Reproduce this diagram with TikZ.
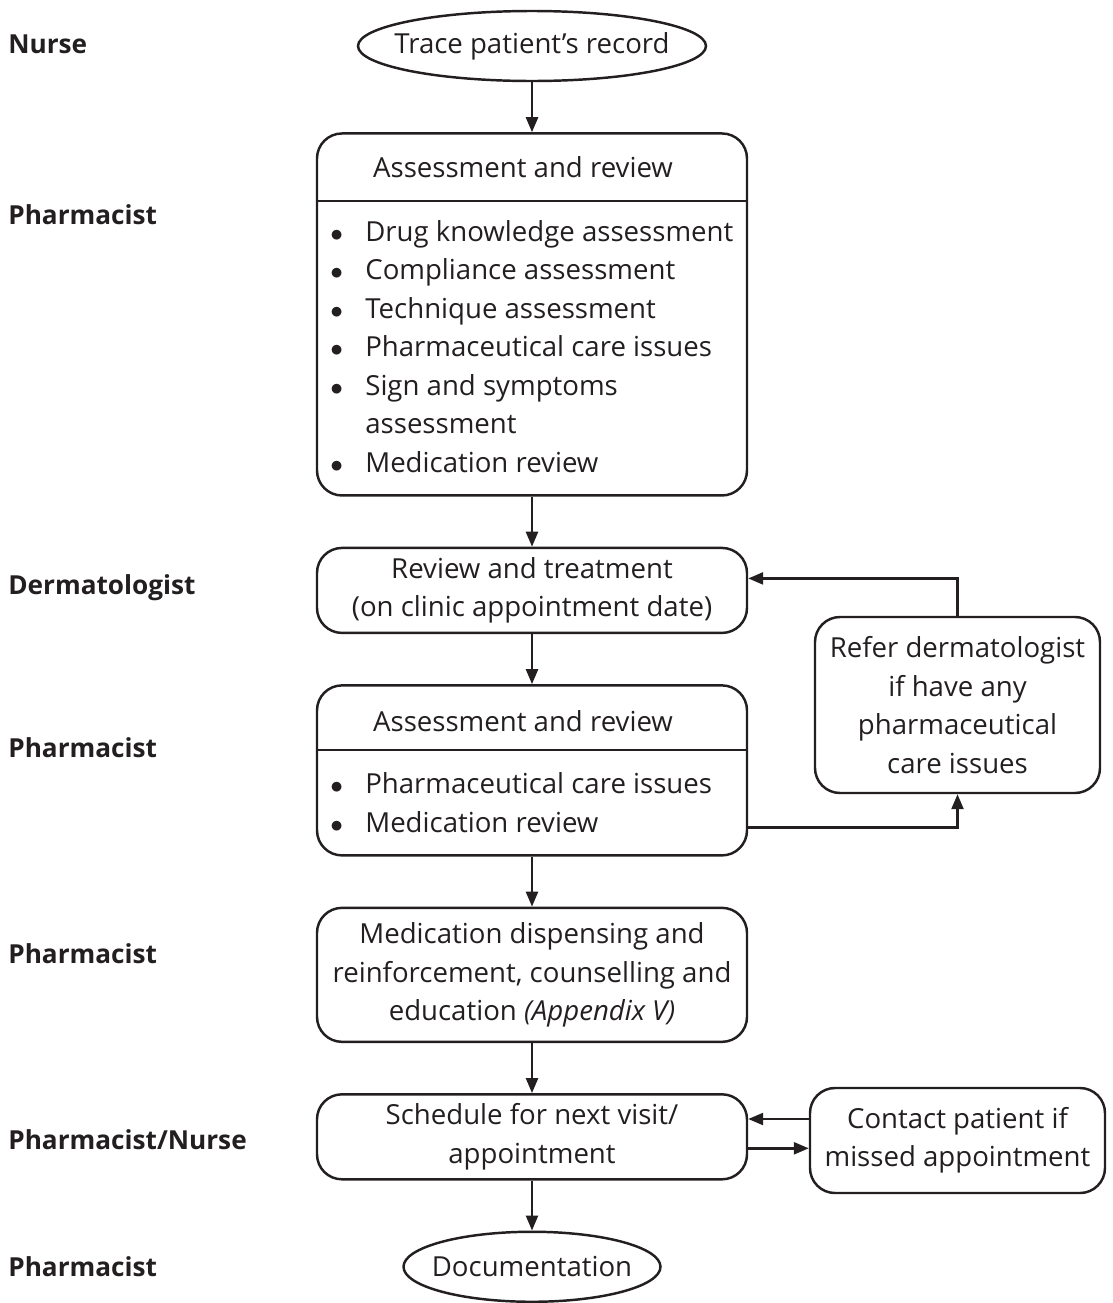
\documentclass[tikz,border=0pt]{standalone}
\usepackage{fontspec}
\setmainfont{Open Sans}
\usetikzlibrary{positioning,arrows.meta,calc,shapes.geometric}
\definecolor{flowink}{HTML}{231F20}
\newcommand{\flowfont}{\fontsize{15.7}{21.9}\selectfont}
\newcommand{\rolefont}{\fontsize{14.9}{18}\selectfont\bfseries}
\newcommand{\itembul}{\makebox[0.7cm][l]{$\bullet$}}
\tikzset{
    every edge/.style={draw=flowink,line width=1.4pt,-{Triangle[length=0.3cm,width=0.24cm]}},
    stage/.style={draw=flowink,rounded corners=0.5cm,line width=1.4pt,minimum width=8.6cm,align=center,text=flowink,font=\flowfont},
    oval/.style={ellipse,draw=flowink,line width=1.4pt,inner sep=0pt,text=flowink,font=\flowfont},
    sidebox/.style={stage,minimum width=5.7cm},
    bullets/.style={anchor=west,align=left,inner sep=0pt,text=flowink,font=\flowfont},
    role/.style={anchor=west,inner sep=0pt,text=flowink,font=\rolefont},
    divider/.style={draw=flowink,line width=1.4pt},
}

\begin{document}
\begin{tikzpicture}[node distance=1.0cm]
    \useasboundingbox (0,0) rectangle (22.26,-26.06);

    % main column
    \node[oval,minimum width=6.96cm,minimum height=1.4cm] (trace) at (10.64,-0.92) {\makebox[0pt]{Trace patient's record}};
    \node[stage,minimum height=7.24cm,below=of trace] (assess) {};
    \node[stage,minimum height=1.7cm,below=of assess] (review) {Review and treatment\\(on clinic appointment date)};
    \node[stage,minimum height=3.4cm,below=of review] (reassess) {};
    \node[stage,minimum height=2.68cm,below=of reassess] (dispense) {Medication dispensing and\\reinforcement, counselling and\\education \textit{(Appendix V)}};
    \node[stage,minimum height=1.7cm,below=of dispense] (schedule) {Schedule for next visit/\\appointment};
    \node[oval,minimum width=5.14cm,minimum height=1.4cm,below=of schedule] (doc) {\makebox[0pt]{Documentation}};

    % side boxes
    \node[sidebox,minimum height=3.52cm] (refer) at (19.15,-14.1) {Refer dermatologist\\if have any\\pharmaceutical\\care issues};
    \node[sidebox,minimum width=5.9cm,minimum height=2.1cm] (contact) at (19.15,-22.81) {Contact patient if\\missed appointment};

    % split boxes
    \node[stage,draw=none,minimum width=0pt] (assesstitle) at (10.46,-3.34) {Assessment and review};
    \draw[divider] ([yshift=-1.38cm]assess.north west) -- ([yshift=-1.38cm]assess.north east);
    \node[bullets] (assesslist) at (6.6,-6.93) {\itembul Drug knowledge assessment\\\itembul Compliance assessment\\\itembul Technique assessment\\\itembul Pharmaceutical care issues\\\itembul Sign and symptoms\\\hspace*{0.7cm}assessment\\\itembul Medication review};

    \node[stage,draw=none,minimum width=0pt] (reassesstitle) at (10.46,-14.42) {Assessment and review};
    \draw[divider] ([yshift=-1.32cm]reassess.north west) -- ([yshift=-1.32cm]reassess.north east);
    \node[bullets] (reassesslist) at (6.6,-16.05) {\itembul Pharmaceutical care issues\\\itembul Medication review};

    % roles
    \node[role] (r1) at (0.16,-0.88) {Nurse};
    \node[role] (r2) at (0.16,-4.3) {Pharmacist};
    \node[role] (r3) at (0.16,-11.76) {Dermatologist};
    \node[role] (r4) at (0.16,-14.96) {Pharmacist};
    \node[role] (r5) at (0.16,-19.08) {Pharmacist};
    \node[role] (r6) at (0.16,-22.8) {Pharmacist/Nurse};
    \node[role] (r7) at (0.16,-25.34) {Pharmacist};

    \path
    (trace) edge (assess)
    (assess) edge (review)
    (review) edge (reassess)
    (reassess) edge (dispense)
    (dispense) edge (schedule)
    (schedule) edge (doc)
    ([yshift=-1.14cm]reassess.east) edge[to path={-| (\tikztotarget)}] (refer.south)
    (refer.north) edge[to path={|- (\tikztotarget)}] ([yshift=0.24cm]review.east)
    ([yshift=0.43cm]contact.west) edge ([yshift=0.43cm]contact.west -| schedule.east)
    ([yshift=-0.23cm]schedule.east) edge ([yshift=-0.23cm]schedule.east -| contact.west);
\end{tikzpicture}
\end{document}
